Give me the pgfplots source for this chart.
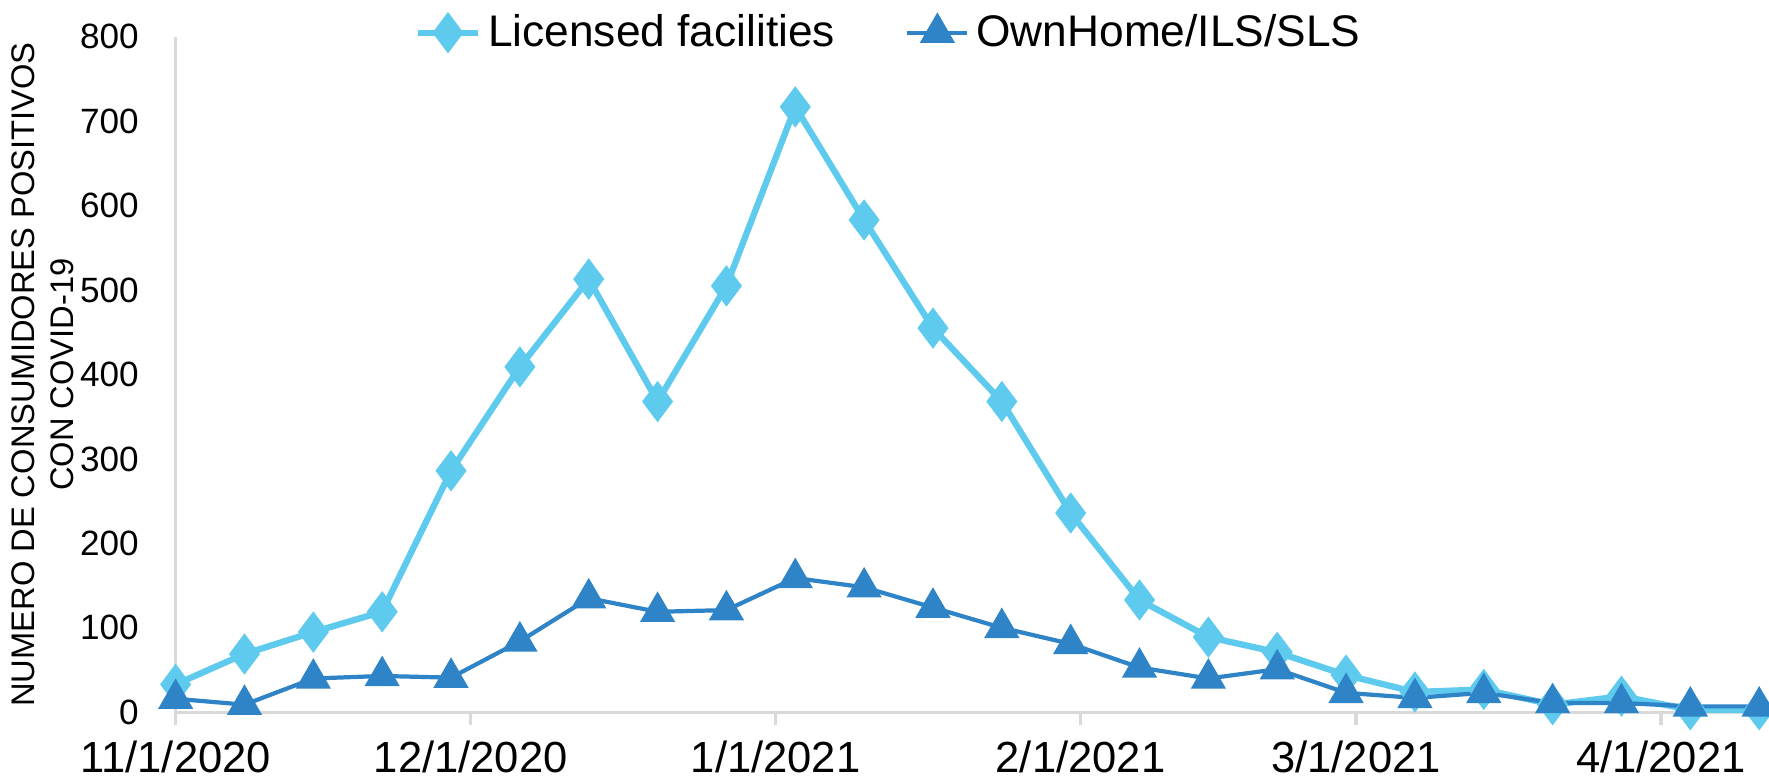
\documentclass[border=0pt]{standalone}
\usepackage{fontspec}
\setmainfont{Liberation Sans}
\usepackage{pgfplots}
\pgfplotsset{compat=1.18}
\definecolor{lightblue}{RGB}{94,202,238}
\definecolor{darkblue}{RGB}{46,132,198}
\definecolor{axisgray}{RGB}{217,217,217}
\begin{document}
% the last marks sit on the right edge of the axis: cut the page there
\begin{tikzpicture}[trim right=453.6pt]
\begin{axis}[
    width=453.6pt, height=192.3pt,
    scale only axis,
    xmin=0, xmax=162,
    ymin=0, ymax=800,
    ytick={0,100,...,800},
    xtick={0,30,61,92,120,151},
    xticklabels={11/1/2020,12/1/2020,1/1/2021,2/1/2021,3/1/2021,4/1/2021},
    axis x line*=bottom,
    axis y line*=left,
    axis line style={axisgray, line width=1pt, -},
    x tick style={axisgray, line width=1pt},
    y tick style={draw=none},
    tick align=outside,
    major tick length=3.7pt,
    /pgf/number format/assume math mode=true,
    yticklabel style={font=\fontsize{10}{12}\selectfont, xshift=-3.3pt},
    xticklabel style={font=\fontsize{12.4}{14}\selectfont, inner ysep=1pt, yshift=-3.2pt},
    ylabel={NUMERO DE CONSUMIDORES POSITIVOS\\CON COVID-19},
    ylabel style={align=center, font=\fontsize{9.3}{11}\selectfont},
    ylabel shift=-5pt,
    legend style={draw=none, fill=none, at={(0.449,1.006)}, anchor=center,
        font=\fontsize{12.6}{14}\selectfont, column sep=0pt,
        /tikz/every even column/.append style={column sep=18pt}},
    legend columns=2,
    legend cell align=left,
]
\addplot[lightblue, line width=1.8pt, mark=diamond*, mark size=4.4pt,
    mark options={fill=lightblue, solid}] coordinates {
    (0,33) (7,69) (14,95) (21,119) (28,286) (35,409) (42,513) (49,368)
    (56,505) (63,717) (70,583) (77,455) (84,368) (91,236) (98,133) (105,89)
    (112,71) (119,44) (126,24) (133,27) (140,9) (147,19) (154,3) (161,3)
};
\addlegendentry{Licensed facilities}
\addplot[darkblue, line width=1.2pt, mark=triangle*, mark size=4.6pt,
    mark options={fill=darkblue, solid}] coordinates {
    (0,16) (7,9) (14,40) (21,43) (28,41) (35,84) (42,135) (49,119)
    (56,121) (63,159) (70,148) (77,124) (84,100) (91,81) (98,53) (105,40)
    (112,51) (119,23) (126,17) (133,23) (140,11) (147,11) (154,7) (161,7)
};
\addlegendentry{OwnHome/ILS/SLS}
\end{axis}
\end{tikzpicture}
\end{document}
